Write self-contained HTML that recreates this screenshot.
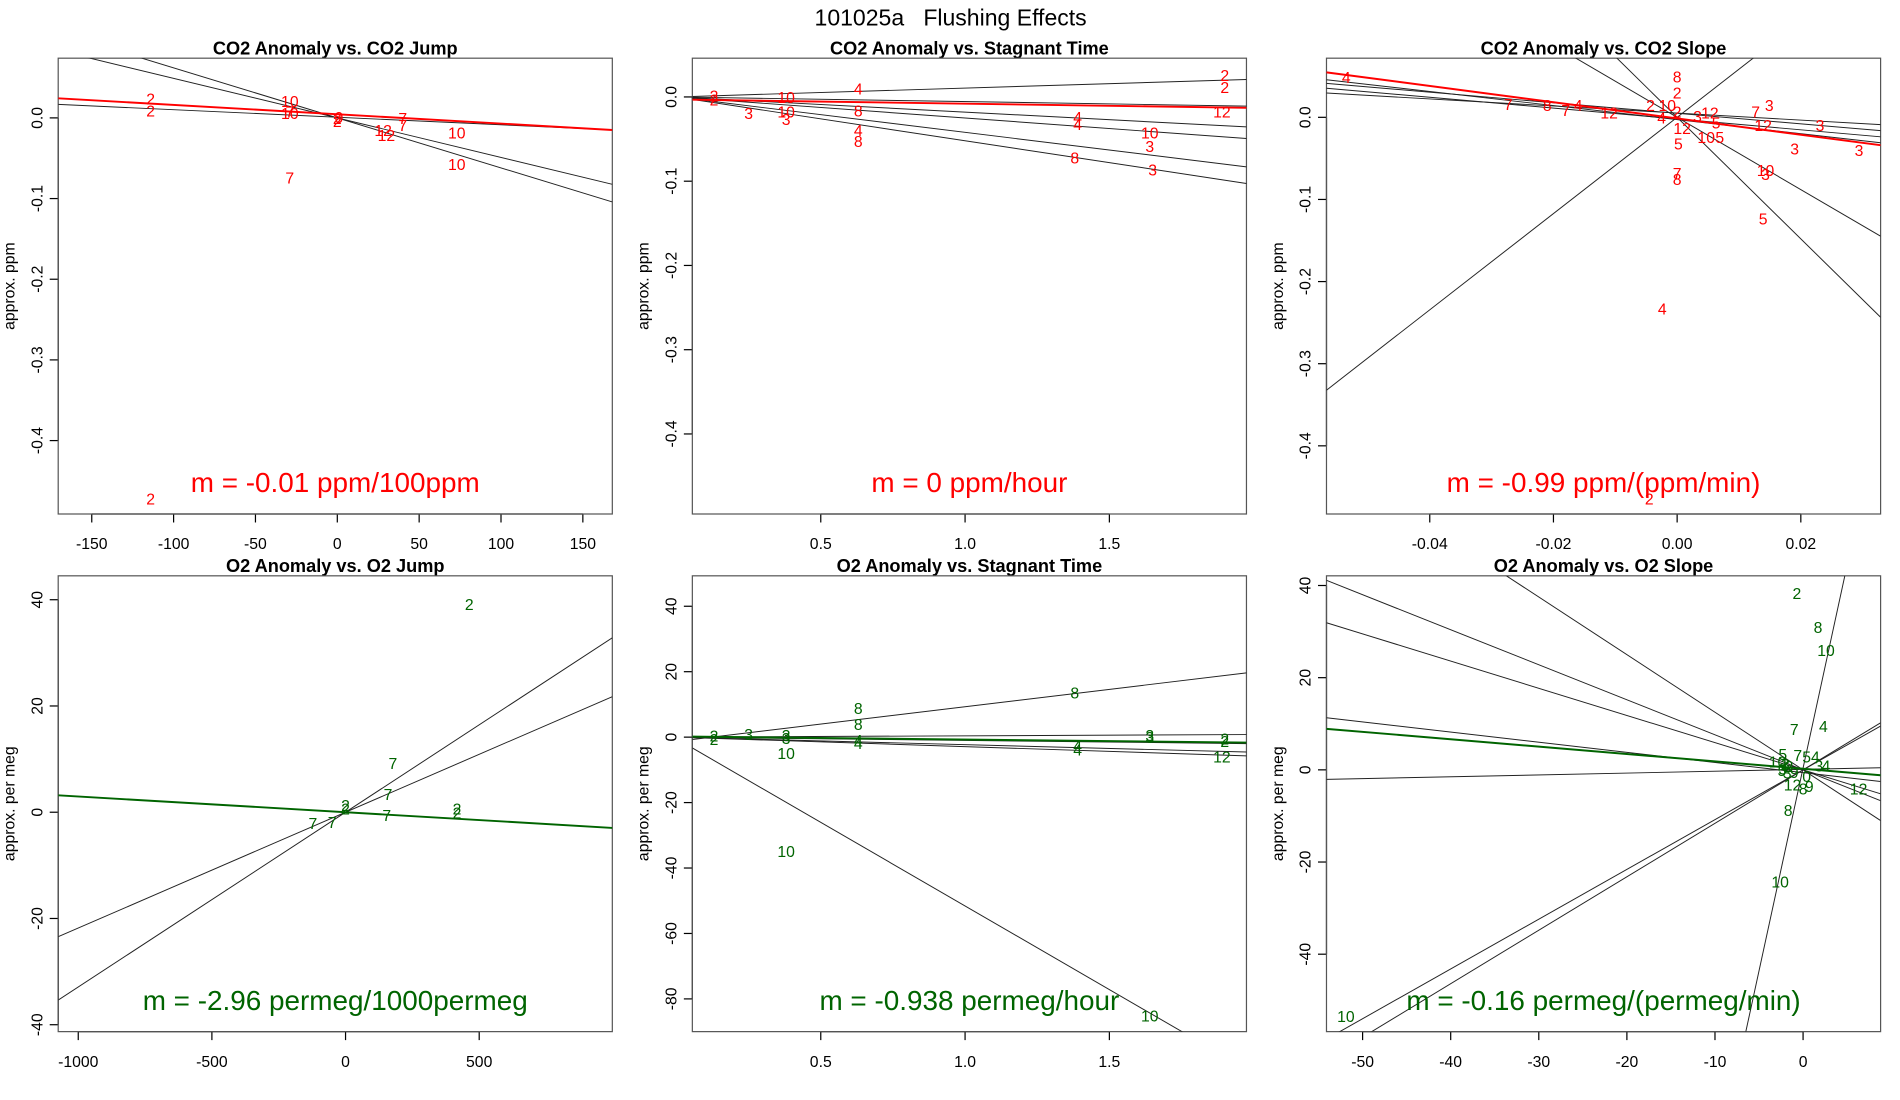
<!DOCTYPE html>
<html><head><meta charset="utf-8"><style>
html,body{margin:0;padding:0;background:#fff;width:1900px;height:1100px;overflow:hidden;}
svg{display:block;font-family:"Liberation Sans",sans-serif;}
</style></head><body>
<svg id="fig" width="1900" height="1100" viewBox="0 0 1567 907.4" preserveAspectRatio="none" xmlns="http://www.w3.org/2000/svg">
<text x="784" y="21" font-size="19" text-anchor="middle">101025a&#160;&#160;&#160;Flushing Effects</text>
</svg>
<script>
// ---- Panel 1: CO2 anomaly vs CO2 jump
const p1Labels=["2","2","10","10","7","2","2","0","12","12","7","7","10","10","7","2"];
const p1X=[-114,-114,-29,-29,-29,0,0,1,28,30,40,40,73,73,-29,-114];
const p1Y=[0.024,0.009,0.021,0.006,0.008,0,-0.004,0.001,-0.015,-0.021,0,-0.009,-0.018,-0.057,-0.074,-0.472];
const p1Slopes=[-0.0000935,-0.00049,-0.00062];
const p1Ints=[0.0008,0,0];
const p1Fit=[-0.000116,0.0045];
const p1XTicks=[-150,-100,-50,0,50,100,150];
const p1XTickLabels=["-150","-100","-50","0","50","100","150"];
const p1YTicks=[0,-0.1,-0.2,-0.3,-0.4];
const p1YTickLabels=["0.0","-0.1","-0.2","-0.3","-0.4"];
// ---- Panel 2: CO2 anomaly vs stagnant time
const p2Labels=["2","2","3","10","10","3","4","8","4","8","4","4","8","10","3","3","2","2","12"];
const p2X=[0.13,0.13,0.25,0.38,0.38,0.38,0.63,0.63,0.63,0.63,1.39,1.39,1.38,1.64,1.64,1.65,1.9,1.9,1.89];
const p2Y=[0.002,-0.003,-0.019,0.0,-0.017,-0.026,0.01,-0.016,-0.039,-0.052,-0.024,-0.032,-0.072,-0.042,-0.058,-0.086,0.026,0.012,-0.017];
const p2Slopes=[0.0105,-0.0055,-0.018,-0.025,-0.042,-0.052];
const p2Ints=[0,0,0,0,0,0];
const p2Fit=[-0.005,-0.003];
const p2XTicks=[0.5,1,1.5];
const p2XTickLabels=["0.5","1.0","1.5"];
const p2YTicks=[0,-0.1,-0.2,-0.3,-0.4];
const p2YTickLabels=["0.0","-0.1","-0.2","-0.3","-0.4"];
// ---- Panel 3: CO2 anomaly vs CO2 slope
const p3Labels=["4","7","8","7","4","12","2","10","8","2","4","2","12","5","3","12","5","10","5","7","3","12","3","10","3","3","3","5","7","8","4","2"];
const p3X=[-0.0535,-0.0273,-0.021,-0.018,-0.016,-0.011,-0.0043,-0.0016,0,0,-0.0025,0,0.0008,0.0002,0.0033,0.0053,0.0063,0.0047,0.0069,0.0127,0.0149,0.0139,0.0231,0.0143,0.0143,0.019,0.0294,0.0139,0,0,-0.0024,-0.0045];
const p3Y=[0.049,0.016,0.015,0.009,0.015,0.006,0.015,0.015,0.05,0.03,0,0.007,-0.013,-0.032,0.0015,0.006,-0.006,-0.024,-0.024,0.007,0.015,-0.009,-0.009,-0.064,-0.069,-0.038,-0.04,-0.123,-0.068,-0.075,-0.233,-0.464];
const p3Slopes=[-0.643,-0.66,-0.43,-0.857,5.86,-7.4,-4.4];
const p3Ints=[0.0049,-0.002,0.0052,-0.0028,0,0,0];
const p3Fit=[-0.99,-0.0014];
const p3XTicks=[-0.04,-0.02,0,0.02];
const p3XTickLabels=["-0.04","-0.02","0.00","0.02"];
const p3YTicks=[0,-0.1,-0.2,-0.3,-0.4];
const p3YTickLabels=["0.0","-0.1","-0.2","-0.3","-0.4"];
// ---- Panel 4: O2 anomaly vs O2 jump
const p4Labels=["2","7","7","7","2","2","7","7","2","2"];
const p4X=[463,177,159,154,0,0,-122,-50,417,417];
const p4Y=[39.2,9.3,3.4,-0.5,1.4,0.7,-2,-1.8,0.7,0];
const p4Slopes=[0.0218,0.0329];
const p4Ints=[0,0];
const p4Fit=[-0.00296,0];
const p4XTicks=[-1000,-500,0,500];
const p4XTickLabels=["-1000","-500","0","500"];
const p4YTicks=[40,20,0,-20,-40];
const p4YTickLabels=["40","20","0","-20","-40"];
// ---- Panel 5: O2 anomaly vs stagnant time
const p5Labels=["2","2","3","3","3","10","10","8","8","4","4","8","4","4","3","3","2","2","12","10"];
const p5X=[0.13,0.13,0.25,0.38,0.38,0.38,0.38,0.63,0.63,0.63,0.63,1.38,1.39,1.39,1.64,1.64,1.9,1.9,1.89,1.64];
const p5Y=[0.5,-0.5,1,0.7,-0.3,-4.8,-34.8,8.9,4,-0.8,-1.8,13.7,-2.6,-3.7,0.7,0,-0.4,-1.1,-5.9,-85];
const p5Slopes=[10.6,0.4,-1,-2.3,-2.9,-51.1];
const p5Ints=[-1.3,0,0,0,0,-0.5];
const p5Fit=[-0.938,0.2];
const p5XTicks=[0.5,1,1.5];
const p5XTickLabels=["0.5","1.0","1.5"];
const p5YTicks=[40,20,0,-20,-40,-60,-80];
const p5YTickLabels=["40","20","0","-20","-40","-60","-80"];
// ---- Panel 6: O2 anomaly vs O2 slope
const p6Labels=["2","8","10","7","4","5","7","5","4","10","3","3","3","4","9","0","2","12","8","9","12","8","10","10","5","3"];
const p6X=[-0.7,1.7,2.6,-1,2.3,-2.3,-0.6,0.4,1.4,-2.9,-2.3,-2,1.8,2.6,-1,0.4,-1.6,-1.2,0,0.7,6.3,-1.7,-2.6,-51.9,-2.4,-1.8];
const p6Y=[38.4,31,26,8.9,9.5,3.4,3.2,2.9,2.9,1.8,0.3,1.3,1,1,-0.5,-1.3,0.8,-3.2,-4,-3.5,-4,-8.7,-24.2,-53.4,0,-0.6];
const p6Slopes=[0.04,-0.22,-0.59,-0.76,-1.25,8.8,1.08,1.16];
const p6Ints=[0.1,-0.6,0,0,0,0.4,0,0];
const p6Fit=[-0.16,0.24];
const p6XTicks=[-50,-40,-30,-20,-10,0];
const p6XTickLabels=["-50","-40","-30","-20","-10","0"];
const p6YTicks=[40,20,0,-20,-40];
const p6YTickLabels=["40","20","0","-20","-40"];

const NS="http://www.w3.org/2000/svg";
const svg=document.getElementById('fig');
function mk(tag,attrs,parent){const e=document.createElementNS(NS,tag);for(const k in attrs)e.setAttribute(k,attrs[k]);(parent||svg).appendChild(e);return e;}

const RED="#ff0000",GREEN="#006400";
const panels=[
 {id:"p1",title:"CO2 Anomaly vs. CO2 Jump",L:48,R:505,T:48,B:424,xr:[-170.5,168],yr:[-0.491,0.074],col:RED,ylab:"approx. ppm",m:"m = -0.01 ppm/100ppm",labels:p1Labels,xs:p1X,ys:p1Y,sl:p1Slopes,ic:p1Ints,fit:p1Fit,xt:p1XTicks,xtl:p1XTickLabels,yt:p1YTicks,ytl:p1YTickLabels},
 {id:"p2",title:"CO2 Anomaly vs. Stagnant Time",L:571,R:1028,T:48,B:424,xr:[0.055,1.975],yr:[-0.495,0.046],col:RED,ylab:"approx. ppm",m:"m = 0 ppm/hour",labels:p2Labels,xs:p2X,ys:p2Y,sl:p2Slopes,ic:p2Ints,fit:p2Fit,xt:p2XTicks,xtl:p2XTickLabels,yt:p2YTicks,ytl:p2YTickLabels},
 {id:"p3",title:"CO2 Anomaly vs. CO2 Slope",L:1094,R:1551,T:48,B:424,xr:[-0.0567,0.0329],yr:[-0.483,0.072],col:RED,ylab:"approx. ppm",m:"m = -0.99 ppm/(ppm/min)",labels:p3Labels,xs:p3X,ys:p3Y,sl:p3Slopes,ic:p3Ints,fit:p3Fit,xt:p3XTicks,xtl:p3XTickLabels,yt:p3YTicks,ytl:p3YTickLabels},
 {id:"p4",title:"O2 Anomaly vs. O2 Jump",L:48,R:505,T:475,B:851,xr:[-1075,998],yr:[-41.3,44.5],col:GREEN,ylab:"approx. per meg",m:"m = -2.96 permeg/1000permeg",labels:p4Labels,xs:p4X,ys:p4Y,sl:p4Slopes,ic:p4Ints,fit:p4Fit,xt:p4XTicks,xtl:p4XTickLabels,yt:p4YTicks,ytl:p4YTickLabels},
 {id:"p5",title:"O2 Anomaly vs. Stagnant Time",L:571,R:1028,T:475,B:851,xr:[0.055,1.975],yr:[-90,49.3],col:GREEN,ylab:"approx. per meg",m:"m = -0.938 permeg/hour",labels:p5Labels,xs:p5X,ys:p5Y,sl:p5Slopes,ic:p5Ints,fit:p5Fit,xt:p5XTicks,xtl:p5XTickLabels,yt:p5YTicks,ytl:p5YTickLabels},
 {id:"p6",title:"O2 Anomaly vs. O2 Slope",L:1094,R:1551,T:475,B:851,xr:[-54.1,8.8],yr:[-56.8,42.1],col:GREEN,ylab:"approx. per meg",m:"m = -0.16 permeg/(permeg/min)",labels:p6Labels,xs:p6X,ys:p6Y,sl:p6Slopes,ic:p6Ints,fit:p6Fit,xt:p6XTicks,xtl:p6XTickLabels,yt:p6YTicks,ytl:p6YTickLabels}
];

const defs=mk('defs',{});
panels.forEach(p=>{
  const sx=v=>p.L+(v-p.xr[0])/(p.xr[1]-p.xr[0])*(p.R-p.L);
  const sy=v=>p.B-(v-p.yr[0])/(p.yr[1]-p.yr[0])*(p.B-p.T);
  const g=mk('g',{});
  
  
  const cp=mk('clipPath',{id:'clip-'+p.id},defs);
  mk('rect',{x:p.L,y:p.T,width:p.R-p.L,height:p.B-p.T},cp);
  const t=mk('text',{x:(p.L+p.R)/2,y:p.T-3,'font-size':15,'font-weight':'bold','text-anchor':'middle'},g);
  t.textContent=p.title;
  
  
  const yl=mk('text',{x:0,y:0,'font-size':13,'text-anchor':'middle',transform:`translate(${p.L-36},${(p.T+p.B)/2}) rotate(-90)`},g);
  yl.textContent=p.ylab;
  
  
  p.xt.forEach((v,i)=>{
    const x=sx(v);
    mk('line',{x1:x,x2:x,y1:p.B,y2:p.B+7,stroke:'#000','stroke-width':1},g);
    const tl=mk('text',{x:x,y:p.B+29,'font-size':13,'text-anchor':'middle'},g);
    tl.textContent=p.xtl[i];
    
    
  });
  mk('line',{x1:sx(p.xt[0]),x2:sx(p.xt[p.xt.length-1]),y1:p.B,y2:p.B,stroke:'#000'},g);
  p.yt.forEach((v,i)=>{
    const y=sy(v);
    mk('line',{x1:p.L-7,x2:p.L,y1:y,y2:y,stroke:'#000','stroke-width':1},g);
    const tl=mk('text',{x:0,y:0,'font-size':13,'text-anchor':'middle',transform:`translate(${p.L-13},${y}) rotate(-90)`},g);
    tl.textContent=p.ytl[i];
    
    
  });
  mk('line',{x1:p.L,x2:p.L,y1:sy(p.yt[0]),y2:sy(p.yt[p.yt.length-1]),stroke:'#000'},g);
  const box=mk('rect',{x:p.L,y:p.T,width:p.R-p.L,height:p.B-p.T,fill:'none',stroke:'#555','stroke-width':1},g);
  
  
  const inner=mk('g',{'clip-path':`url(#clip-${p.id})`},g);
  p.sl.forEach((s,i)=>{
    const x0=p.xr[0],x1=p.xr[1];
    const ln=mk('line',{x1:sx(x0),y1:sy(p.ic[i]+s*x0),x2:sx(x1),y2:sy(p.ic[i]+s*x1),stroke:'#222','stroke-width':0.8},inner);
    
    
  });
  {
    const x0=p.xr[0],x1=p.xr[1],s=p.fit[0],c=p.fit[1];
    const ln=mk('line',{x1:sx(x0),y1:sy(c+s*x0),x2:sx(x1),y2:sy(c+s*x1),stroke:p.col,'stroke-width':1.6},inner);
    
    
  }
  p.labels.forEach((lab,i)=>{
    const pt=mk('text',{x:sx(p.xs[i]),y:sy(p.ys[i])+5,'font-size':13,'text-anchor':'middle',fill:p.col},g);
    pt.textContent=lab;
    
    
  });
  const mt=mk('text',{x:(p.L+p.R)/2,y:p.B-18,'font-size':23,'text-anchor':'middle',fill:p.col},g);
  mt.textContent=p.m;
  
  
});
</script>
</body></html>
